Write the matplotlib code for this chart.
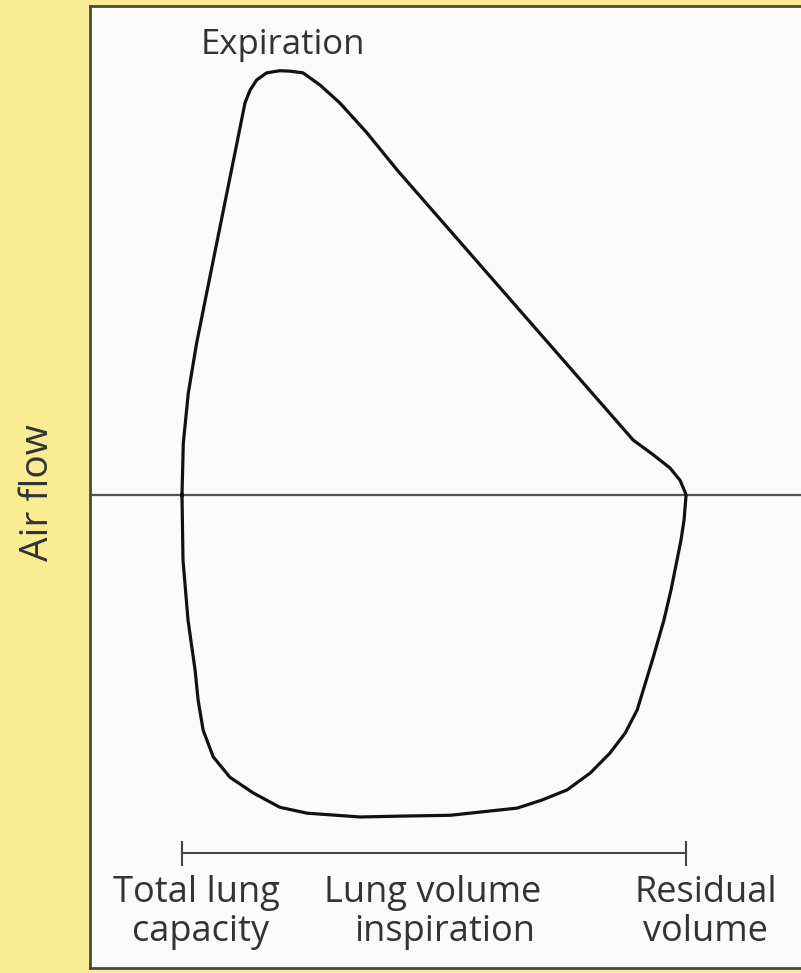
import numpy as np
import matplotlib.pyplot as plt

# flow-volume loop, volume 0 = total lung capacity, 100 = residual volume
# flow in relative units, + is expiration, - is inspiration
volume = [0, 0.26, 1.25, 2.9, 4.9, 6.9, 8.9, 10.9, 12.5, 13.5, 14.8, 16.8, 19.4, 21.4,
          24.0, 27.4, 31.3, 36.7, 42.7, 66.1, 89.5, 93.5, 96.8, 98.8, 99.8, 100,
          99.6, 99.0, 98.2, 97.0, 95.6, 93.5, 90.3, 87.9, 84.9, 81.0, 76.4, 71.4, 66.5,
          53.2, 43.3, 35.3, 24.8, 19.4, 14.1, 9.5, 6.2, 4.2, 3.2, 2.6, 1.2, 0.2, 0]
flow = [0, 12.3, 24.1, 35.9, 47.8, 59.6, 71.4, 83.2, 92.7, 95.7, 98.1, 99.8, 100.3, 100.2,
        99.8, 96.9, 92.7, 85.6, 76.8, 44.9, 13, 9.5, 6.4, 3.5, 0.7, 0,
        -5.9, -10.6, -15.4, -22.5, -29.6, -38.3, -50.8, -56.3, -61, -65.7, -69.7, -72.1, -74,
        -75.7, -75.9, -76.1, -75.2, -73.8, -70.4, -66.7, -61.9, -55.6, -48.5, -41.4, -29.6, -15.4, 0]

bottom_labels = [("Total lung", 2.9, -94.1), ("capacity", 3.6, -103.3),
                 ("Lung volume", 49.8, -94.1), ("inspiration", 52.2, -103.3),
                 ("Residual", 103.9, -94.1), ("volume", 103.9, -103.3)]

fig = plt.figure(figsize=(8.01, 9.73), dpi=100)
fig.patch.set_facecolor('#f9ec93')
ax = fig.add_axes([90 / 801, 5 / 973, 711 / 801, 962 / 973])
ax.set_facecolor('#fbfbfb')
ax.set_xlim(-18.25, 122.8)
ax.set_ylim(-111.8, 115.6)
ax.set_xticks([])
ax.set_yticks([])
for side in ['left', 'top', 'bottom']:
    ax.spines[side].set_color('#4a4a3c')
    ax.spines[side].set_linewidth(2)
ax.spines['right'].set_visible(False)

ax.axhline(0, color='#555555', lw=1.6)
ax.plot(volume, flow, color='#111111', lw=2.3, solid_joinstyle='round')

# volume bracket
ax.plot([0, 100], [-84.6, -84.6], color='#444444', lw=1.5)
ax.plot([0, 0], [-82, -87.5], color='#444444', lw=1.5)
ax.plot([100, 100], [-82, -87.5], color='#444444', lw=1.5)

font = 'Open Sans'
ax.text(20.0, 106.4, 'Expiration', ha='center', va='center', fontsize=25,
        family=font, color='#333333')
for txt, x, y in bottom_labels:
    ax.text(x, y, txt, ha='center', va='center', fontsize=26, family=font, color='#333333')
fig.text(38 / 801, 1 - 493 / 973, 'Air flow', rotation=90, ha='center', va='center',
         fontsize=28, family=font, color='#333333')

fig.savefig('out.png', dpi=100, facecolor=fig.get_facecolor())
